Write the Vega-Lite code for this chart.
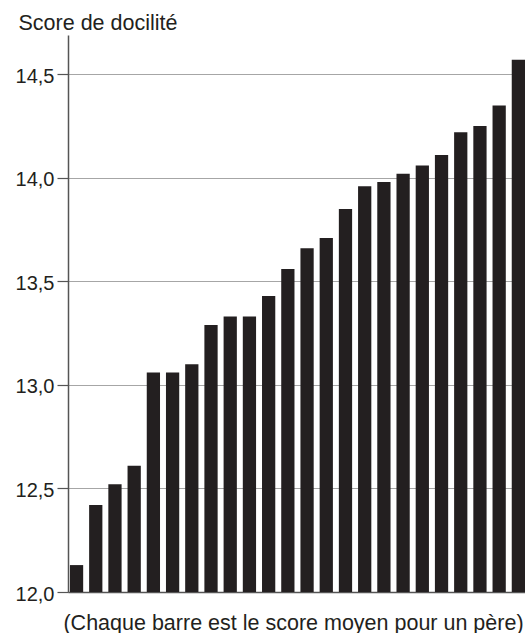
{
  "$schema": "https://vega.github.io/schema/vega-lite/v6.json",
  "autosize": {"type": "none"},
  "padding": {"left": 68, "top": 35, "right": 0, "bottom": 41},
  "width": 457,
  "height": 557,
  "background": "white",
  "config": {"view": {"stroke": null}, "font": "Liberation Sans"},
  "data": {
    "values": [
      {"pere": 1, "score": 12.13},
      {"pere": 2, "score": 12.42},
      {"pere": 3, "score": 12.52},
      {"pere": 4, "score": 12.61},
      {"pere": 5, "score": 13.06},
      {"pere": 6, "score": 13.06},
      {"pere": 7, "score": 13.10},
      {"pere": 8, "score": 13.29},
      {"pere": 9, "score": 13.33},
      {"pere": 10, "score": 13.33},
      {"pere": 11, "score": 13.43},
      {"pere": 12, "score": 13.56},
      {"pere": 13, "score": 13.66},
      {"pere": 14, "score": 13.71},
      {"pere": 15, "score": 13.85},
      {"pere": 16, "score": 13.96},
      {"pere": 17, "score": 13.98},
      {"pere": 18, "score": 14.02},
      {"pere": 19, "score": 14.06},
      {"pere": 20, "score": 14.11},
      {"pere": 21, "score": 14.22},
      {"pere": 22, "score": 14.25},
      {"pere": 23, "score": 14.35},
      {"pere": 24, "score": 14.57}
    ]
  },
  "mark": {"type": "bar", "color": "#231f20"},
  "encoding": {
    "x": {
      "field": "pere",
      "type": "ordinal",
      "scale": {"paddingInner": 0.31, "paddingOuter": 0.05, "align": 1},
      "axis": {
        "labels": false,
        "ticks": false,
        "domain": true,
        "domainColor": "#555555",
        "domainWidth": 1.5,
        "grid": false,
        "title": "(Chaque barre est le score moyen pour un père)",
        "titleFont": "Liberation Sans",
        "titleFontSize": 21.5,
        "titleFontWeight": "normal",
        "titleColor": "#231f20",
        "titleX": 225,
        "titleY": 37,
        "titleAlign": "center",
        "titleBaseline": "alphabetic"
      }
    },
    "y": {
      "field": "score",
      "type": "quantitative",
      "scale": {"domain": [12, 14.69], "zero": false, "nice": false},
      "axis": {
        "values": [12, 12.5, 13, 13.5, 14, 14.5],
        "labelExpr": "replace(format(datum.value, '.1f'), '.', ',')",
        "labelFont": "Liberation Sans",
        "labelFontSize": 20,
        "labelColor": "#231f20",
        "labelPadding": 3,
        "labelOffset": 2,
        "labelFlush": false,
        "labelOverlap": false,
        "labelBound": false,
        "tickSize": 11,
        "tickColor": "#555555",
        "tickWidth": 1.2,
        "domainColor": "#555555",
        "domainWidth": 1.5,
        "grid": true,
        "gridColor": "#a6a6a6",
        "gridWidth": 1.2,
        "title": "Score de docilité",
        "titleFont": "Liberation Sans",
        "titleAngle": 0,
        "titleX": -50,
        "titleY": -6,
        "titleAlign": "left",
        "titleBaseline": "alphabetic",
        "titleFontSize": 21.5,
        "titleFontWeight": "normal",
        "titleColor": "#231f20"
      }
    },
    "y2": {"datum": 12}
  }
}
